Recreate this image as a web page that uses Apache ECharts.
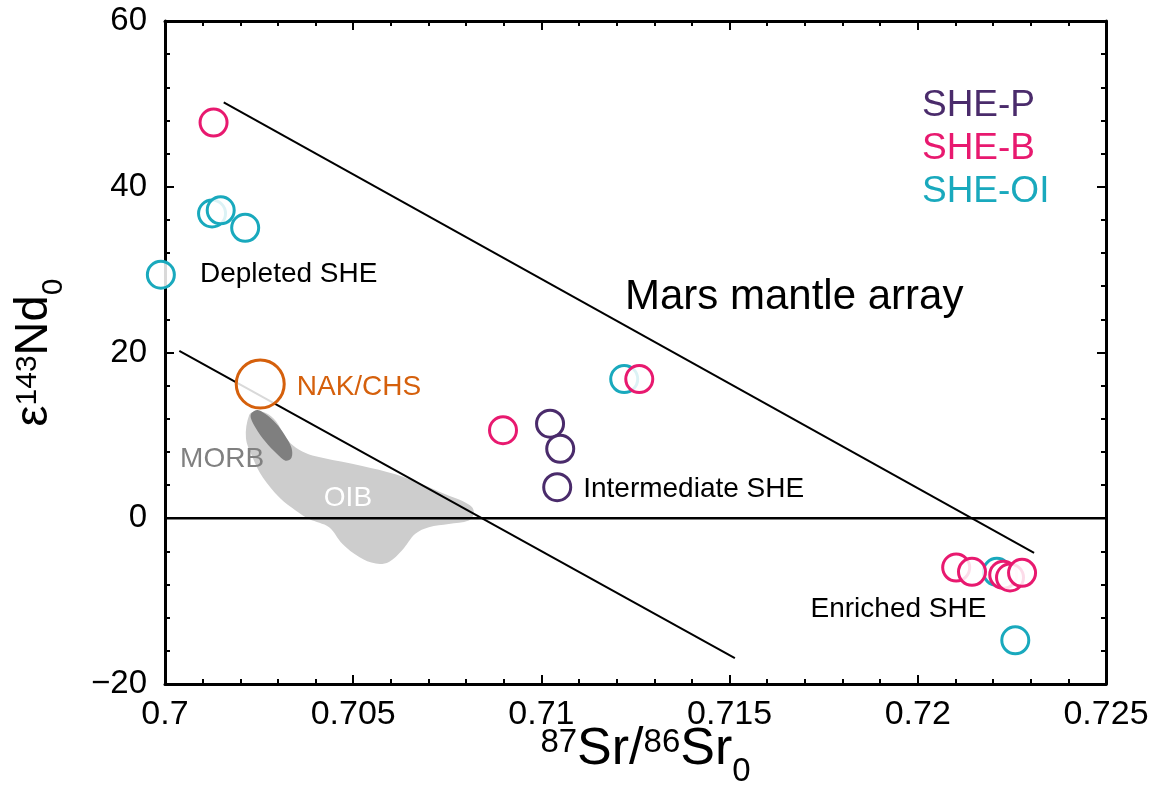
<!DOCTYPE html>
<html>
<head>
<meta charset="utf-8">
<script src="https://cdn.jsdelivr.net/npm/echarts@6/dist/echarts.min.js"></script>
<style>
html,body{margin:0;padding:0;background:#fff;width:100%;height:100%;overflow:hidden;}
#chart{width:100%;height:100%;}
</style>
</head>
<body>
<div id="chart"></div>
<script>
// ---- data ----
const xTickLabels = ['0.7', '0.705', '0.71', '0.715', '0.72', '0.725'];
const yTickLabels = ['\u221220', '0', '20', '40', '60'];

const sheP = [[0.71023, 11.41], [0.71050, 8.38], [0.71042, 3.75]];
const sheOI = [[0.69989, 29.38], [0.70125, 36.77], [0.70148, 37.16], [0.70213, 35.05],
               [0.71220, 16.80], [0.72210, -6.47], [0.72259, -14.73]];
const sheB = [[0.70129, 47.75], [0.70898, 10.62], [0.71260, 16.80], [0.72102, -5.95],
              [0.72144, -6.47], [0.72227, -6.83], [0.72245, -7.15], [0.72277, -6.59]];
const nakChs = [[0.70253, 16.20]];

const marsMantleArray = [[0.70156, 50.18], [0.72309, -4.19]];
const lowerArray = [[0.70038, 20.20], [0.71514, -16.89]];
const zeroLine = [[0.7, 0], [0.725, 0]];

const oibOutline = [
  [0.70224, 12.49], [0.70215, 9.70], [0.70233, 7.31], [0.70260, 4.91], [0.70304, 2.51],
  [0.70348, 0.92], [0.70383, -0.08], [0.70436, -1.08], [0.70471, -3.07], [0.70516, -4.67],
  [0.70560, -5.47], [0.70595, -5.27], [0.70630, -3.87], [0.70665, -1.88], [0.70701, -1.08],
  [0.70754, -0.68], [0.70807, -0.28], [0.70820, 0.51], [0.70816, 1.32], [0.70789, 2.12],
  [0.70745, 2.91], [0.70683, 4.11], [0.70612, 5.31], [0.70524, 6.31], [0.70418, 7.31],
  [0.70383, 7.70], [0.70348, 8.50], [0.70321, 9.70], [0.70295, 11.70], [0.70268, 12.69],
  [0.70242, 12.90]
];
const morbOutline = [
  [0.70230, 12.69], [0.70246, 13.05], [0.70267, 12.57], [0.70294, 11.50], [0.70318, 10.06],
  [0.70336, 8.50], [0.70336, 7.31], [0.70320, 6.95], [0.70297, 7.78], [0.70267, 9.22],
  [0.70241, 10.90], [0.70228, 12.10]
];

const annotationTexts = ['Depleted SHE', 'Mars mantle array', 'NAK/CHS', 'MORB', 'OIB', 'Intermediate SHE', 'Enriched SHE'];
const annotationAnchors = [[0.70093, 29.46], [0.71222, 26.7], [0.70350, 15.8], [0.70040, 7.07],
                           [0.70422, 2.4], [0.71111, 3.47], [0.71715, -11.0]];

// ---- styles ----
const FONT = '"Liberation Sans", Arial, Helvetica, sans-serif';
const C_P = '#4a2b6b', C_B = '#e8196f', C_OI = '#19a9bd', C_NAK = '#d5600c';
const annStyles = [
  {color: '#000', fontSize: 28},
  {color: '#000', fontSize: 42},
  {color: C_NAK, fontSize: 28},
  {color: '#808080', fontSize: 28},
  {color: '#fff', fontSize: 28},
  {color: '#000', fontSize: 28},
  {color: '#000', fontSize: 28}
];
const xMin = 0.7, xMax = 0.725, xStep = 0.005;
const yMin = -20, yMax = 60, yStep = 20;

const chart = echarts.init(document.getElementById('chart'), null, {renderer: 'canvas'});

function axisCommon(isX) {
  return {
    type: 'value',
    min: isX ? xMin : yMin,
    max: isX ? xMax : yMax,
    interval: isX ? xStep : yStep,
    axisLine: {show: true, onZero: false, lineStyle: {color: '#000', width: 3}},
    axisTick: {show: true, inside: true, length: 9, lineStyle: {color: '#000', width: 2}},
    minorTick: {show: true, splitNumber: 5, length: 5, lineStyle: {color: '#000', width: 2}},
    splitLine: {show: false},
    minorSplitLine: {show: false},
    axisLabel: {show: false}
  };
}

function titleRich(big, small) {
  return {
    b: {fontSize: big, fontFamily: FONT, color: '#000', verticalAlign: 'bottom', lineHeight: big + 3},
    sup: {fontSize: small, fontFamily: FONT, color: '#000', verticalAlign: 'top', lineHeight: big + 3,
          padding: [5, 0, 0, 0]},
    sub: {fontSize: small, fontFamily: FONT, color: '#000', verticalAlign: 'bottom', lineHeight: big - 3,
          padding: [0, 0, -Math.round(small * 0.36), 0]}
  };
}

const xBottom = Object.assign(axisCommon(true), {
  position: 'bottom',
  axisLabel: {
    show: true, fontSize: 34, color: '#000', fontFamily: FONT, margin: 14,
    formatter: v => xTickLabels[Math.round((v - xMin) / xStep)]
  },
  name: '{sup|87}{b|Sr/}{sup|86}{b|Sr}{sub|0}',
  nameLocation: 'middle',
  nameGap: 37,
  nameMoveOverlap: false,
  nameTextStyle: {fontFamily: FONT, color: '#000', padding: [0, 0, 0, 20], rich: titleRich(52, 33)}
});
const xTop = Object.assign(axisCommon(true), {position: 'top'});
const yLeft = Object.assign(axisCommon(false), {
  position: 'left',
  axisLabel: {
    show: true, fontSize: 33, color: '#000', fontFamily: FONT, margin: 18,
    formatter: v => yTickLabels[Math.round((v - yMin) / yStep)]
  },
  name: '{b|\u03b5}{sup|143}{b|Nd}{sub|0}',
  nameLocation: 'middle',
  nameRotate: 90,
  nameGap: 107,
  nameMoveOverlap: false,
  nameTextStyle: {fontFamily: FONT, color: '#000', rich: titleRich(47, 30)}
});
const yRight = Object.assign(axisCommon(false), {position: 'right'});

function polygonSeries(name, outline, fill, z) {
  return {
    name: name, type: 'custom', silent: true, z: z,
    xAxisIndex: 0, yAxisIndex: 0,
    data: [outline[0]],
    renderItem: function (params, api) {
      const pts = outline.map(p => api.coord(p));
      return {type: 'polygon', shape: {points: pts, smooth: 0.35}, style: {fill: fill, stroke: null}};
    }
  };
}

function pointSeries(name, data, color, size, z) {
  return {
    name: name, type: 'scatter', data: data, z: z, clip: false,
    symbol: 'circle', symbolSize: size,
    itemStyle: {color: 'rgba(255,255,255,0.85)', borderColor: color, borderWidth: 3, opacity: 1},
    emphasis: {disabled: true}
  };
}

function lineSeries(name, data, width, z) {
  return {
    name: name, type: 'line', data: data, z: z, silent: true,
    symbol: 'none', lineStyle: {color: '#000', width: width}
  };
}

const option = {
  animation: false,
  backgroundColor: '#fff',
  textStyle: {fontFamily: FONT},
  grid: {left: '14.003%', right: '4.983%', top: '2.648%', bottom: '13.115%', containLabel: false},
  xAxis: [xBottom, xTop],
  yAxis: [yLeft, yRight],
  legend: {
    orient: 'vertical', left: '78.26%', top: '10.34%', itemGap: 6,
    itemWidth: 0, itemHeight: 0, selectedMode: false,
    textStyle: {fontSize: 37, fontFamily: FONT},
    data: [
      {name: 'SHE-P', textStyle: {color: C_P}},
      {name: 'SHE-B', textStyle: {color: C_B}},
      {name: 'SHE-OI', textStyle: {color: C_OI}}
    ]
  },
  series: [
    polygonSeries('OIB', oibOutline, '#cdcdcd', 1),
    polygonSeries('MORB', morbOutline, '#7f7f7f', 2),
    lineSeries('zero', zeroLine, 2.5, 3),
    lineSeries('Mars mantle array', marsMantleArray, 2, 3),
    lineSeries('lower array', lowerArray, 2, 3),
    pointSeries('NAK/CHS', nakChs, C_NAK, 48, 5),
    pointSeries('SHE-P', sheP, C_P, 27, 6),
    pointSeries('SHE-OI', sheOI, C_OI, 27, 7),
    pointSeries('SHE-B', sheB, C_B, 27, 8),
    {
      name: 'annotations', type: 'scatter', symbolSize: 0, silent: true, z: 10, clip: false,
      itemStyle: {opacity: 1},
      data: annotationTexts.map((t, i) => ({
        name: t, value: annotationAnchors[i],
        label: Object.assign({show: true, position: 'inside', align: 'left', verticalAlign: 'middle',
                              opacity: 1, fontFamily: FONT, formatter: '{b}'}, annStyles[i])
      }))
    }
  ]
};
chart.setOption(option);
window.addEventListener('resize', () => chart.resize());
</script>
</body>
</html>
